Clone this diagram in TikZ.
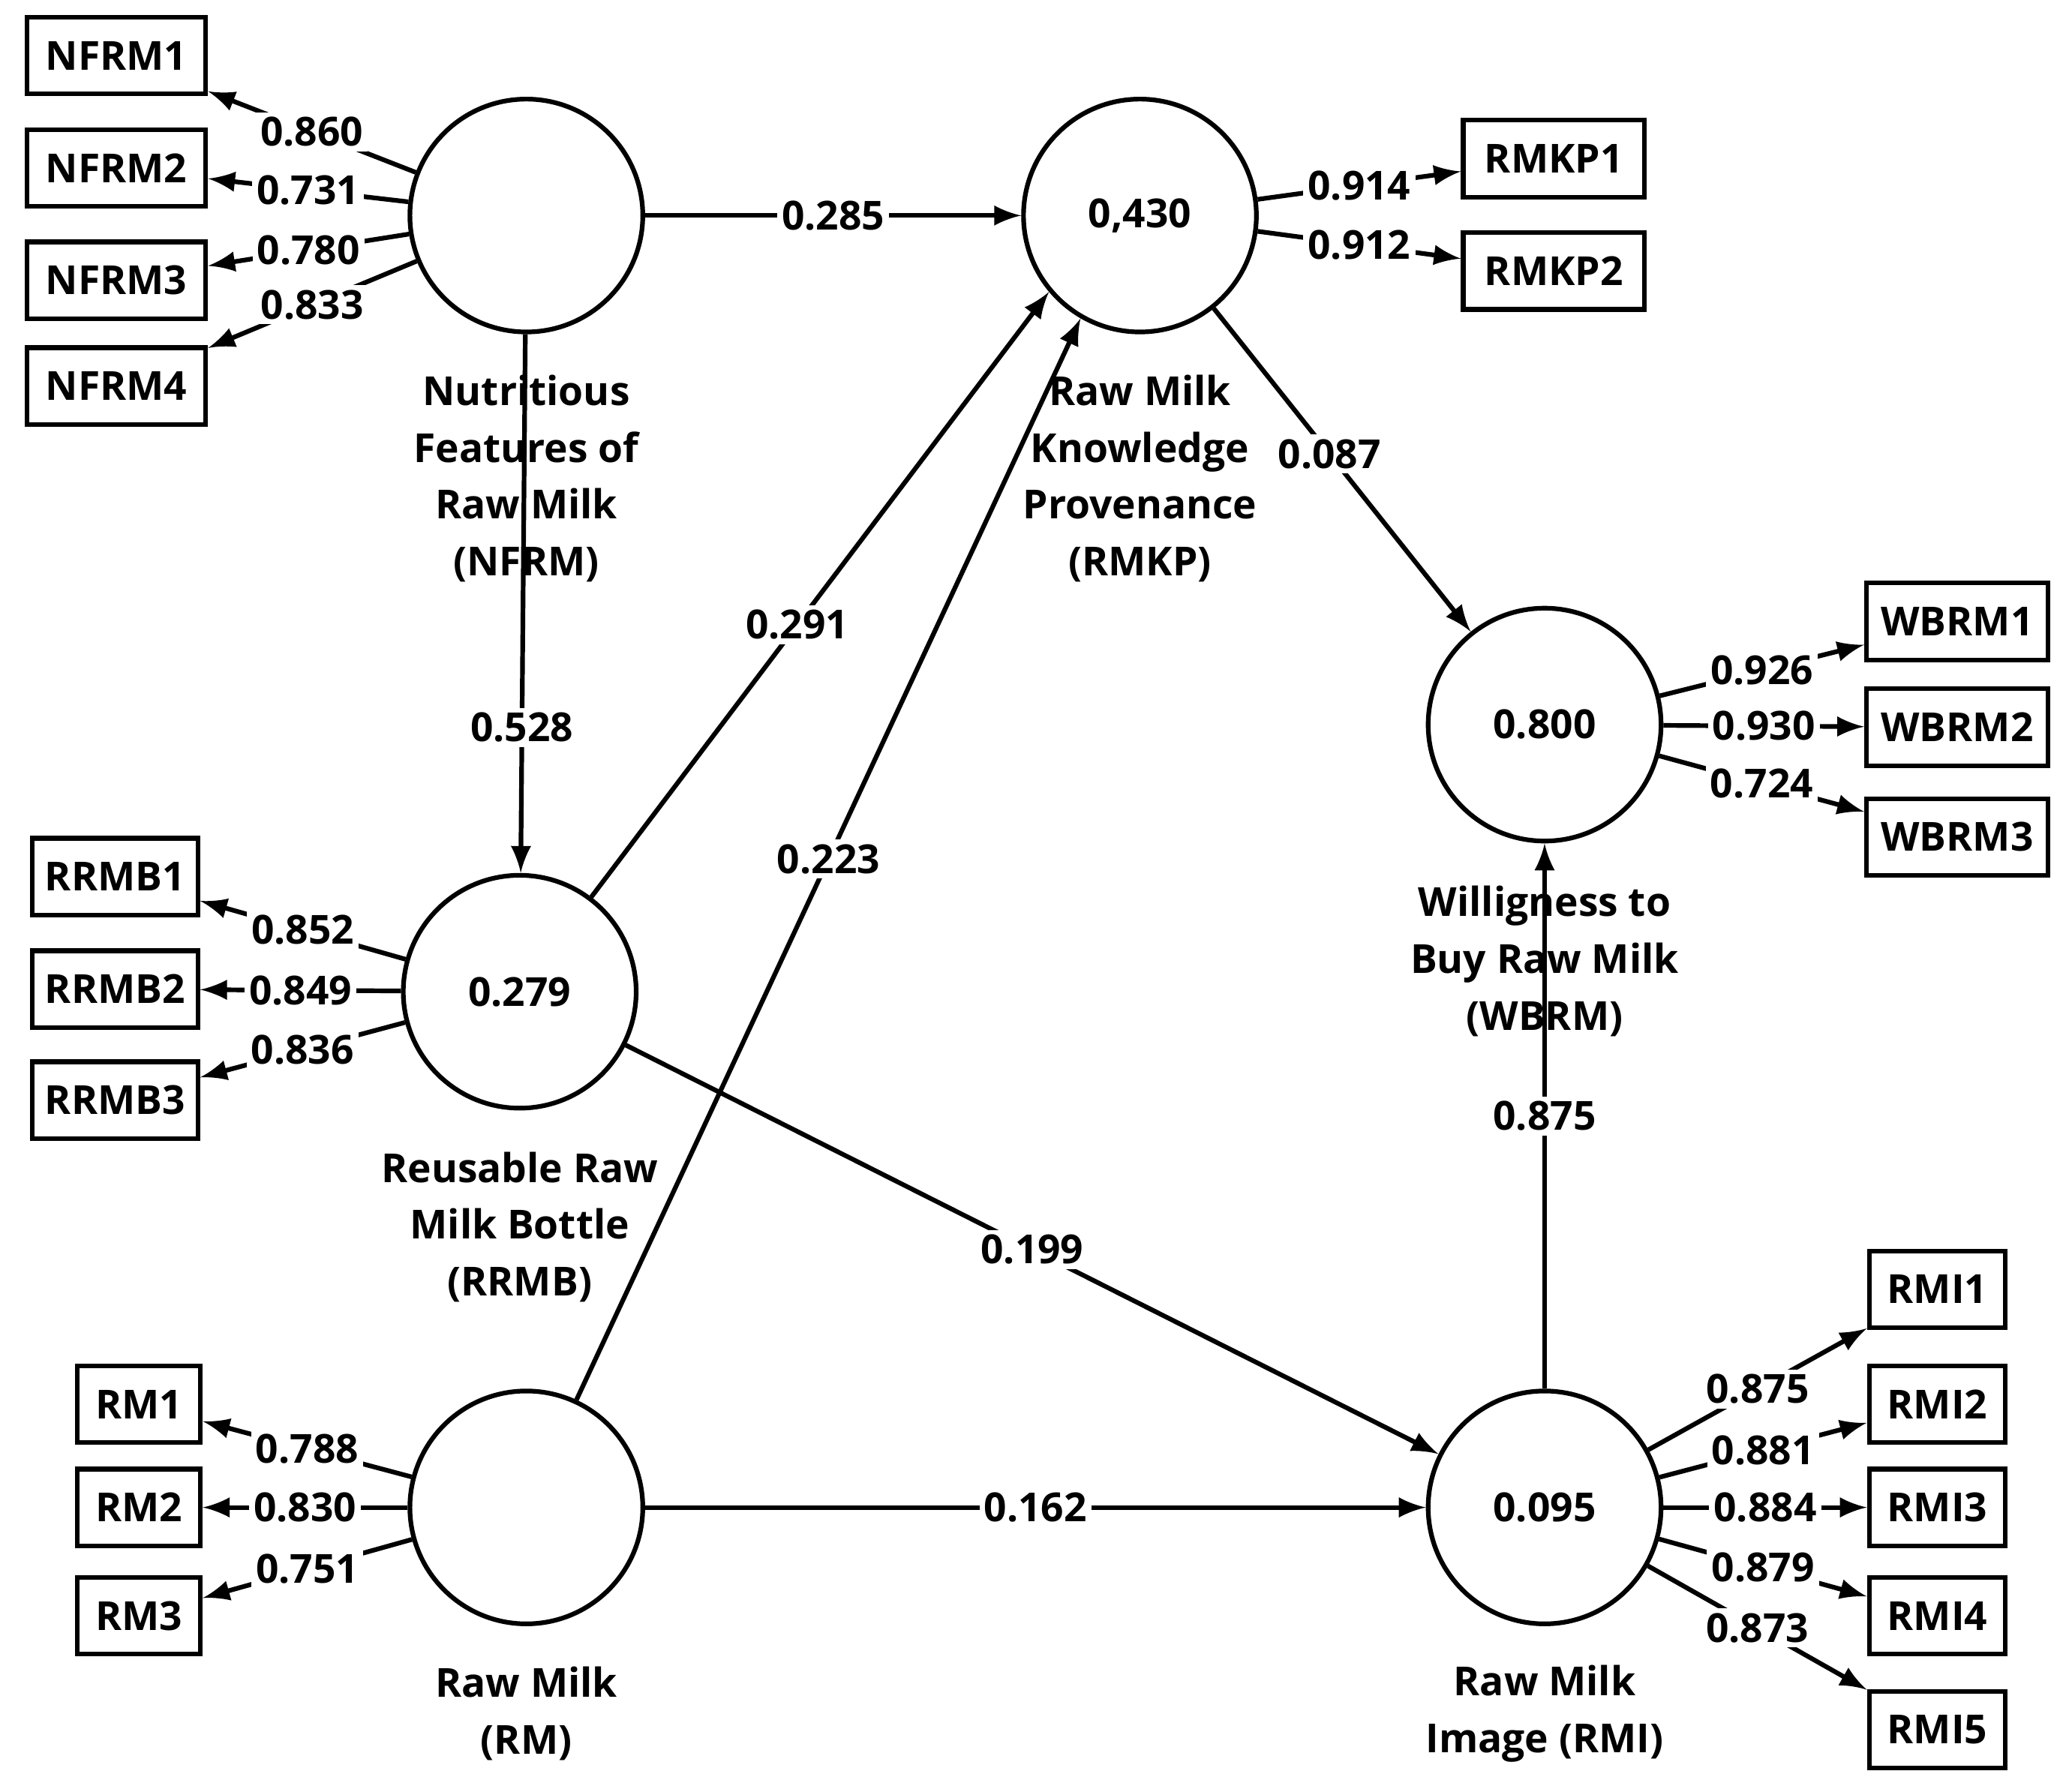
\documentclass[tikz,border=0pt]{standalone}
\usepackage{fontspec}
\setmainfont{Open Sans}
\begin{document}
\begin{tikzpicture}[x=0.01cm,y=-0.01cm,
 every node/.style={font=\fontsize{8.6}{11}\selectfont\bfseries},
 lv/.style={circle,draw,line width=1pt,minimum size=1.76cm,inner sep=0pt},
 ind/.style={draw,line width=1pt,minimum height=0.58cm,inner sep=2pt},
 ar/.style={line width=1pt,-latex},
 lb/.style={fill=white,inner sep=1pt},
 nm/.style={align=center,font=\fontsize{8.6}{12.2}\selectfont\bfseries}]
\useasboundingbox (0,0) rectangle (1560,1355);
\node[lv] (NFRM) at (398,163) {};
\node[lv] (RMKP) at (862,163) {0,430};
\node[lv] (RRMB) at (393,750) {0.279};
\node[lv] (WBRM) at (1168,548) {0.800};
\node[lv] (RM) at (398,1140) {};
\node[lv] (RMI) at (1168,1140) {0.095};
\node[nm] at (398,362) {Nutritious\\Features of\\Raw Milk\\(NFRM)};
\node[nm] at (862,362) {Raw Milk\\Knowledge\\Provenance\\(RMKP)};
\node[nm] at (393,928) {Reusable Raw\\Milk Bottle\\(RRMB)};
\node[nm] at (1168,727) {Willigness to\\Buy Raw Milk\\(WBRM)};
\node[nm] at (398,1296) {Raw Milk\\(RM)};
\node[nm] at (1168,1296) {Raw Milk\\Image (RMI)};
\foreach \n/\y in {1/42,2/127,3/212,4/292}{\node[ind,minimum width=1.35cm] (NFRM\n) at (88,\y) {NFRM\n};}
\foreach \n/\y in {1/120,2/205}{\node[ind,minimum width=1.37cm] (RMKP\n) at (1175,\y) {RMKP\n};}
\foreach \n/\y in {1/663,2/748,3/832}{\node[ind,minimum width=1.25cm] (RRMB\n) at (87,\y) {RRMB\n};}
\foreach \n/\y in {1/470,2/550,3/633}{\node[ind,minimum width=1.37cm] (WBRM\n) at (1480,\y) {WBRM\n};}
\foreach \n/\y in {1/975,2/1062,3/1140,4/1222,5/1308}{\node[ind,minimum width=1.03cm] (RMI\n) at (1465,\y) {RMI\n};}
\foreach \n/\y in {1/1062,2/1140,3/1222}{\node[ind,minimum width=0.93cm] (RM\n) at (105,\y) {RM\n};}
% indicators
\draw[ar] (NFRM) -- node[lb]{0.860} (NFRM1);
\draw[ar] (NFRM) -- node[lb]{0.731} (NFRM2);
\draw[ar] (NFRM) -- node[lb]{0.780} (NFRM3);
\draw[ar] (NFRM) -- node[lb]{0.833} (NFRM4);
\draw[ar] (RMKP) -- node[lb]{0.914} (RMKP1);
\draw[ar] (RMKP) -- node[lb]{0.912} (RMKP2);
\draw[ar] (RRMB) -- node[lb]{0.852} (RRMB1);
\draw[ar] (RRMB) -- node[lb]{0.849} (RRMB2);
\draw[ar] (RRMB) -- node[lb]{0.836} (RRMB3);
\draw[ar] (WBRM) -- node[lb]{0.926} (WBRM1);
\draw[ar] (WBRM) -- node[lb]{0.930} (WBRM2);
\draw[ar] (WBRM) -- node[lb]{0.724} (WBRM3);
\draw[ar] (RM) -- node[lb]{0.788} (RM1);
\draw[ar] (RM) -- node[lb]{0.830} (RM2);
\draw[ar] (RM) -- node[lb]{0.751} (RM3);
\draw[ar] (RMI) -- node[lb]{0.875} (RMI1);
\draw[ar] (RMI) -- node[lb]{0.881} (RMI2);
\draw[ar] (RMI) -- node[lb]{0.884} (RMI3);
\draw[ar] (RMI) -- node[lb]{0.879} (RMI4);
\draw[ar] (RMI) -- node[lb]{0.873} (RMI5);
% structural
\draw[ar] (NFRM) -- node[lb]{0.285} (RMKP);
\draw[ar] (NFRM) -- node[lb,pos=0.73]{0.528} (RRMB);
\draw[ar] (RRMB) -- node[lb,pos=0.45]{0.291} (RMKP.220);
\draw[ar] (RM) -- node[lb,pos=0.5]{0.223} (RMKP.240);
\draw[ar] (RMKP) -- node[lb,pos=0.45]{0.087} (WBRM);
\draw[ar] (RRMB) -- node[lb,pos=0.5]{0.199} (RMI);
\draw[ar] (RM) -- node[lb]{0.162} (RMI);
\draw[ar] (RMI) -- node[lb]{0.875} (WBRM);
\end{tikzpicture}
\end{document}
